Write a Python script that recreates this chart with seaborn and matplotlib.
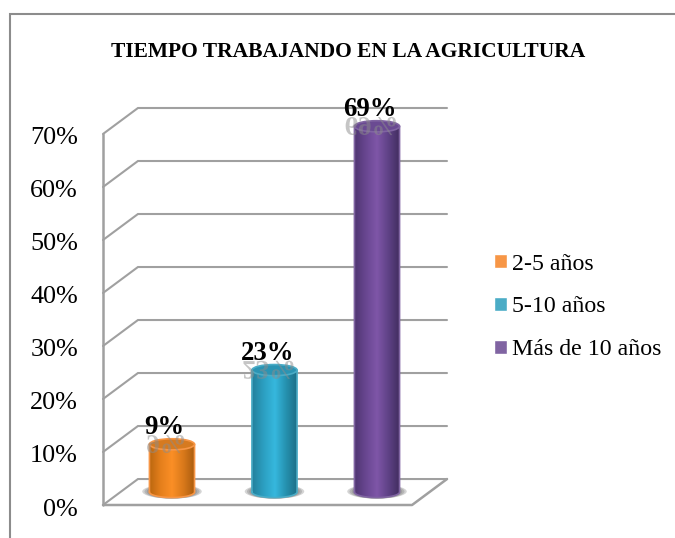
import numpy as np
import pandas as pd
import matplotlib
matplotlib.use('Agg')
import matplotlib.pyplot as plt
import seaborn as sns
from matplotlib.colors import LinearSegmentedColormap
from matplotlib.font_manager import FontProperties
from matplotlib.lines import Line2D
from matplotlib.patches import Ellipse, PathPatch
from matplotlib.path import Path
from matplotlib.textpath import TextPath
from matplotlib.transforms import Affine2D, ScaledTranslation

# Values
categories = ['2-5 años', '5-10 años', 'Más de 10 años']
values = [9, 23, 69]
value_labels = ['9%', '23%', '69%']
ticks = [0, 10, 20, 30, 40, 50, 60, 70]
tick_labels = ['0%', '10%', '20%', '30%', '40%', '50%', '60%', '70%']
title = 'TIEMPO TRABAJANDO EN LA AGRICULTURA'

base_colors = ['#f79646', '#4bacc6', '#8064a2']
top_colors = ['#d67a20', '#2b94b3', '#6a4a92']
ramps = [['#b9660f', '#e57f1c', '#fb8f26', '#d9791b', '#a95c0e'],
         ['#23809c', '#2c9fc1', '#36b8de', '#2590ae', '#1c6c84'],
         ['#4e3570', '#684690', '#7f56a8', '#5f4286', '#412c5e']]

sns.set_theme(style='white')
plt.rcParams['font.family'] = ['Liberation Serif', 'DejaVu Serif']

W, H = 675, 538
fig = plt.figure(figsize=(W / 100, H / 100), dpi=100)
# plot box goes from the floor's front edge to the top of the back wall
ax = fig.add_axes([103 / W, 1 - 505 / H, (447 - 103) / W, (505 - 108) / H])

df = pd.DataFrame({'Tiempo': categories, 'Valor': values})
sns.barplot(data=df, x='Tiempo', y='Valor', hue='Tiempo', palette=base_colors,
            width=0.44, saturation=1, legend=True, ax=ax, zorder=3)

x0, x1 = -0.673, 2.683
depth_x, depth_y = 0.341, 2.45
ax.set_xlim(x0, x1)
ax.set_ylim(-depth_y, 70 + depth_y)

# box walls
wall = '#a0a0a0'
for t in ticks:
    ax.plot([x0, x0 + depth_x, x1], [t - depth_y, t + depth_y, t + depth_y],
            color=wall, lw=1.5, zorder=1, clip_on=False, solid_joinstyle='miter')
ax.plot([x0, x0], [-depth_y, 70 - depth_y], color=wall, lw=1.8, zorder=1, clip_on=False)
ax.plot([x0, x1 - depth_x, x1], [-depth_y, -depth_y, depth_y], color=wall, lw=1.8,
        zorder=1, clip_on=False)

# cylinders on top of the seaborn bars
ry = 1.05
bars = [p for p in ax.patches if p.get_height() > 0]
bars = sorted(bars, key=lambda p: p.get_x())
for i, bar in enumerate(bars):
    left, w, h = bar.get_x(), bar.get_width(), bar.get_height()
    cx = left + w / 2
    bar.set_visible(False)
    for grow in [1.32, 1.22, 1.12]:
        ax.add_patch(Ellipse((cx, 0.1), w * grow, ry * 2.6, color='#666666',
                             alpha=0.28, lw=0, zorder=2))
    cmap = LinearSegmentedColormap.from_list('c%d' % i, ramps[i])
    grad = np.linspace(0, 1, 128)[None, :]
    im = ax.imshow(grad, cmap=cmap, extent=[left, left + w, -ry, h], aspect='auto',
                   zorder=3, origin='lower')
    theta = np.linspace(np.pi, 2 * np.pi, 40)
    xs = np.r_[cx + w / 2 * np.cos(theta), cx + w / 2, cx - w / 2, cx - w / 2]
    ys = np.r_[ry * np.sin(theta), h, h, 0]
    clip = Path(np.c_[xs, ys])
    im.set_clip_path(clip, transform=ax.transData)
    ax.plot(xs, ys, color=base_colors[i], lw=1.2, zorder=4)
    ax.add_patch(Ellipse((cx, h), w, ry * 2, facecolor=top_colors[i],
                         edgecolor=base_colors[i], lw=1.2, zorder=5))

# labels with their mirrored ghost
fp = FontProperties(family='Liberation Serif', weight='bold', size=19.3)
for i, bar in enumerate(bars):
    cx = bar.get_x() + bar.get_width() / 2 - 0.07
    h = bar.get_height()
    ax.text(cx, h + 3.2, value_labels[i], ha='center', va='center', fontproperties=fp,
            color='black', zorder=8, clip_on=False)
    tp = TextPath((0, 0), value_labels[i], prop=fp)
    ext = tp.get_extents()
    bx, by = ax.transData.transform((cx, h + 1.7))
    tr = Affine2D().translate(-ext.width / 2, 0).scale(100 / 72, -100 / 72).translate(bx, by)
    ax.add_patch(PathPatch(tp, transform=tr, facecolor='#8c8c8c', edgecolor='none',
                           alpha=0.5, zorder=6, clip_on=False))

ax.set_yticks([t - depth_y for t in ticks], tick_labels, fontsize=18.8, color='black')
ax.tick_params(axis='y', length=0, pad=18)
shift = ScaledTranslation(0, -2 / 100, fig.dpi_scale_trans)
for lbl in ax.get_yticklabels():
    lbl.set_transform(lbl.get_transform() + shift)
ax.set_xticks([])
ax.set_xlabel('')
ax.set_ylabel('')
ax.patch.set_alpha(0)
sns.despine(ax=ax, left=True, bottom=True)

sns.move_legend(ax, 'center left', bbox_to_anchor=(494 / W, 1 - 307 / H),
                bbox_transform=fig.transFigure, frameon=False, title=None,
                fontsize=17.2, labelcolor='black', handlelength=0.54, handleheight=0.54,
                handletextpad=0.22, labelspacing=0.92, borderpad=0, borderaxespad=0)

fig.text(348.5 / W, 1 - 52 / H, title, ha='center', va='center', fontsize=15.5,
         fontweight='bold', color='black')

# outer frame: only top and left sides show
frame = '#8c8c8c'
fig.add_artist(Line2D([9.5 / W, 9.5 / W, 1], [0, 1 - 14 / H, 1 - 14 / H], color=frame, lw=1.5,
                      solid_joinstyle='miter'))

fig.savefig('out.png', dpi=100)
